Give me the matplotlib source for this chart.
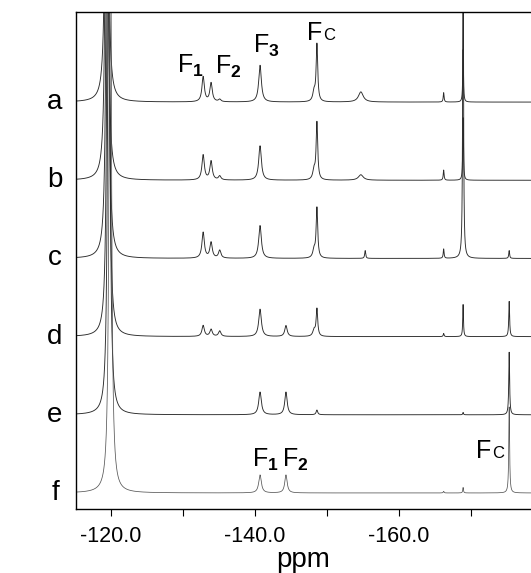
import numpy as np
import matplotlib
matplotlib.use('Agg')
import matplotlib.pyplot as plt
import matplotlib.transforms as mtransforms

plt.rcParams['font.family'] = ['Liberation Sans', 'DejaVu Sans']
plt.rcParams['mathtext.fontset'] = 'custom'
plt.rcParams['mathtext.rm'] = 'Liberation Sans'
plt.rcParams['mathtext.bf'] = 'Liberation Sans:bold'

# trace labels, top to bottom
traces = ['a', 'b', 'c', 'd', 'e', 'f']

# main (off-scale) peak position per trace, ppm
main_ppm = [-119.4, -119.4, -119.5, -119.6, -119.7, -119.9]
main_height = [8.0, 8.0, 8.0, 8.0, 8.0, 10.0]
main_width = [0.17, 0.17, 0.17, 0.17, 0.17, 0.16]

# other resonances, ppm and half widths
peak_ppm = [-132.8, -133.9, -135.1, -140.7, -144.3, -148.2, -148.6,
            -154.7, -155.3, -166.2, -168.9, -175.3]
peak_width = [0.2, 0.2, 0.2, 0.22, 0.2, 0.2, 0.13,
              0.4, 0.08, 0.07, 0.06, 0.07]

# heights (in units of trace spacing) for each trace
heights_a = [0.32, 0.24, 0.03, 0.47, 0.00, 0.12, 0.73, 0.13, 0.00, 0.12, 0.67, 0.00]
heights_b = [0.32, 0.24, 0.05, 0.44, 0.00, 0.12, 0.73, 0.07, 0.00, 0.13, 0.80, 0.00]
heights_c = [0.33, 0.20, 0.10, 0.42, 0.00, 0.10, 0.64, 0.00, 0.10, 0.12, 5.00, 0.10]
heights_d = [0.14, 0.09, 0.07, 0.35, 0.14, 0.08, 0.35, 0.00, 0.00, 0.04, 0.41, 0.45]
heights_e = [0.00, 0.00, 0.00, 0.29, 0.29, 0.00, 0.06, 0.00, 0.00, 0.00, 0.03, 0.80]
heights_f = [0.00, 0.00, 0.00, 0.23, 0.23, 0.00, 0.00, 0.00, 0.00, 0.02, 0.07, 1.10]
heights = [heights_a, heights_b, heights_c, heights_d, heights_e, heights_f]

major_ticks = [-120.0, -140.0, -160.0]
minor_ticks = [-130.0, -150.0, -170.0]


def lorentz(x, x0, h, w):
    return h / (1.0 + ((x - x0) / w) ** 2)


ppm = np.arange(-115.0, -179.0, -0.005)

fig = plt.figure(figsize=(5.31, 5.73), dpi=100)
ax = fig.add_axes([0.1431, 0.1117, 0.8569, 0.868])

n = len(traces)
trans = mtransforms.blended_transform_factory(ax.transAxes, ax.transData)
for i, name in enumerate(traces):
    off = n - 1 - i
    y = lorentz(ppm, main_ppm[i], main_height[i], main_width[i])
    for p, h, w in zip(peak_ppm, heights[i], peak_width):
        if h > 0:
            y = y + lorentz(ppm, p, h, w)
    col = '#555555' if name == 'f' else '#2a2a2a'
    lw = 0.55 if name == 'f' else 0.65
    ax.plot(ppm, y + off, color=col, lw=lw)
    ax.text(-0.046, off, name, transform=trans, ha='center', va='center',
            fontsize=20)

# peak labels
lab_kw = dict(fontsize=18, ha='left', va='baseline')
ax.text(-129.17, 5.37, r'F$_\mathbf{1}$', **lab_kw)
ax.text(-134.44, 5.36, r'F$_\mathbf{2}$', **lab_kw)
ax.text(-139.72, 5.63, r'F$_\mathbf{3}$', **lab_kw)
ax.text(-139.58, 0.33, r'F$_\mathbf{1}$', **lab_kw)
ax.text(-143.75, 0.33, r'F$_\mathbf{2}$', **lab_kw)
for xf, yf in [(-147.22, 5.79), (-170.69, 0.45)]:
    ax.text(xf, yf, 'F', **lab_kw)
    ax.annotate('C', xy=(xf, yf), xytext=(11.5, 0), textcoords='offset points',
                fontsize=12, ha='left', va='baseline')

ax.set_xlim(-115.14, -178.33)
ax.set_ylim(-0.205, 6.157)
ax.set_yticks([])
ax.set_xticks(major_ticks)
ax.set_xticklabels(['%.1f' % t for t in major_ticks])
ax.set_xticks(minor_ticks, minor=True)
ax.tick_params(axis='x', which='both', direction='out', length=5, width=0.8,
               labelsize=15.5, pad=7)
ax.set_xlabel('ppm', fontsize=20, labelpad=0)
ax.spines['right'].set_visible(False)
for s in ['left', 'top', 'bottom']:
    ax.spines[s].set_linewidth(1.0)

fig.savefig('out.png', dpi=100)
